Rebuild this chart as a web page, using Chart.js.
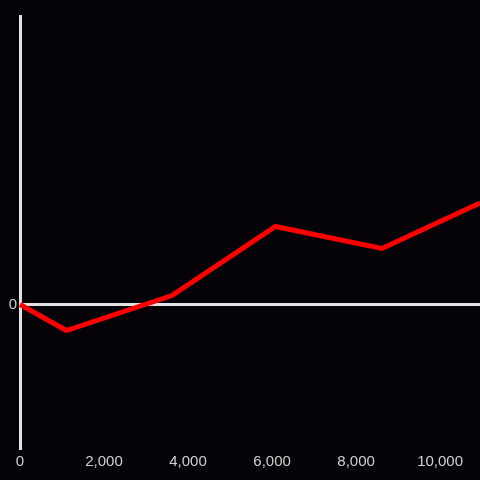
<!DOCTYPE html>
<html>
<head>
<meta charset="utf-8">
<script src="https://cdn.jsdelivr.net/npm/chart.js@4"></script>
<style>
html,body{margin:0;padding:0;background:#050307;}
#wrap{width:480px;height:480px;}
</style>
</head>
<body>
<div id="wrap"><canvas id="lineChart"></canvas></div>
<script>
const xValues=[0,1105,3617,6081,8617,10950];
const yValues=[0,-26,9,78,56,101.5];
const xTicks=[0,2000,4000,6000,8000,10000];
const yTicks=[0];

const axisColor="#e2e2e2";
const textColor="#d0d0d0";

const points=xValues.map((x,i)=>({x:x,y:yValues[i]}));

new Chart(document.getElementById("lineChart"),{
type:"line",
data:{
datasets:[{
data:points,
borderColor:"#ff0000",
borderWidth:5,
pointRadius:0,
tension:0,
clip:false
}]
},
options:{
responsive:true,
maintainAspectRatio:false,
animation:false,
layout:{padding:{top:16,right:0,left:0,bottom:0}},
plugins:{legend:{display:false},tooltip:{enabled:false}},
scales:{
x:{
type:"linear",
min:0,
max:10950,
afterBuildTicks:s=>{s.ticks=xTicks.map(v=>({value:v}));},
afterFit:s=>{s.height=32;},
grid:{display:false,drawTicks:false},
border:{display:false},
ticks:{color:textColor,font:{family:"Liberation Sans",size:15},padding:5,maxRotation:0}
},
y:{
min:-143.5,
max:288.5,
afterBuildTicks:s=>{s.ticks=yTicks.map(v=>({value:v}));},
afterFit:s=>{s.width=20;},
grid:{color:axisColor,lineWidth:3,drawTicks:false},
border:{display:true,color:axisColor,width:3},
ticks:{color:textColor,font:{family:"Liberation Sans",size:15},padding:3}
}
}
}
});
</script>
</body>
</html>
